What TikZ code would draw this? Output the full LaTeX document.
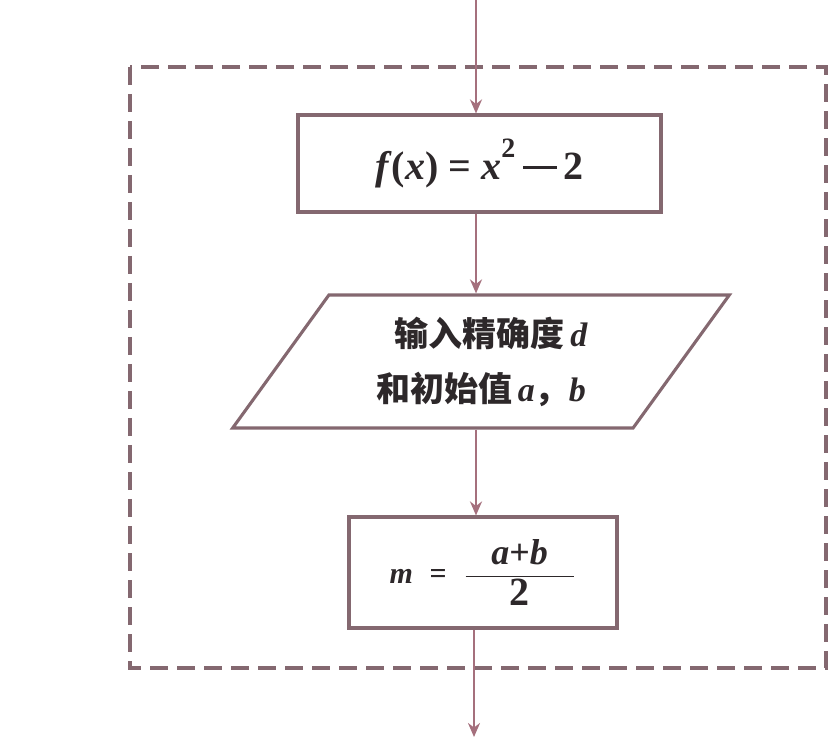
\documentclass[tikz,border=0pt]{standalone}
\usepackage{fontspec}
\setmainfont{Liberation Serif}
\newfontfamily\cjk{Noto Sans CJK SC}
\usetikzlibrary{arrows.meta,shapes.geometric}
\definecolor{edge}{RGB}{132,104,112}
\definecolor{arrowc}{RGB}{165,112,125}
\definecolor{ink}{RGB}{45,40,42}
\tikzset{
  procbox/.style={draw=edge, line width=1.55pt, fill=white, text=ink, inner sep=0pt},
  iobox/.style={trapezium, trapezium left angle=53, trapezium right angle=127,
    trapezium stretches=true, draw=edge, line width=1.55pt, fill=white, text=ink, inner sep=0pt},
  flow/.style={draw=arrowc, line width=1.1pt, -{Stealth[length=7pt,width=6pt]}},
  frame/.style={draw=edge, line width=1.6pt, dash pattern=on 9pt off 4.5pt}
}
\newcommand{\longminus}{\rule[0.24em]{0.85em}{0.075em}}
\begin{document}
\begin{tikzpicture}[x=0.5pt,y=-0.5pt]
\useasboundingbox (0,0) rectangle (830,737);
\draw[frame] (130,67) rectangle (826,668);
\node[procbox, minimum width=181.5pt, minimum height=48.5pt] (f) at (479.5,163.5)
  {\fontsize{20}{24}\selectfont\bfseries\textit{f}(\textit{x}) = \textit{x}\raisebox{0.15em}{\textsuperscript{2}}\,\longminus\,2};
\node[iobox, minimum width=249pt, minimum height=66.5pt, align=center,
      font=\fontsize{17}{27.5}\selectfont] (io) at (481,361.5)
  {\hspace*{0.6em}{\cjk\bfseries 输入精确度}\,\textbf{\textit{d}}\\
   {\cjk\bfseries 和初始值}\,\textbf{\textit{a}}{\cjk\bfseries ，}\textbf{\textit{b}}};
\node[procbox, minimum width=134pt, minimum height=55.5pt] (m) at (483,572.5)
  {\fontsize{15}{18}\selectfont\bfseries\textit{m}\hspace{0.55em}=\hspace{0.55em}$\displaystyle\frac{\mbox{\fontsize{18}{20}\selectfont\bfseries\hspace{0.72em}\textit{a}+\textit{b}\hspace{0.72em}}}{\mbox{\fontsize{20}{22}\selectfont\bfseries 2}}$\hspace{1.2em}};
\coordinate (start) at (476,0);
\coordinate (end) at (474,737);
\draw[flow] (start) -- (start |- f.north);
\draw[flow] (f.south -| start) -- (start |- io.north);
\draw[flow] (io.south -| start) -- (start |- m.north);
\draw[flow] (m.south -| end) -- (end);
\end{tikzpicture}
\end{document}
